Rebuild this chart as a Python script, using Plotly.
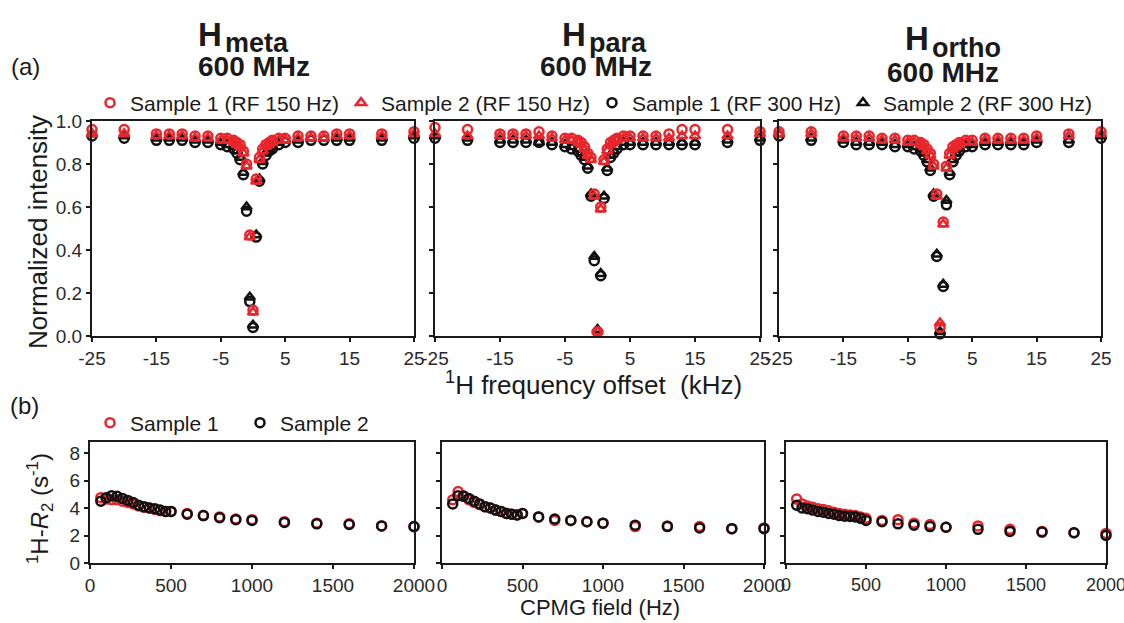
import plotly.graph_objects as go

W, H = 1124, 623
RED = "#e8262b"
BLACK = "#111111"
FONT = "Liberation Sans, Arial, sans-serif"

# ---------------- data: panel (a) ----------------
offsets_khz = [-25, -20, -15, -13, -11, -9, -7, -5, -4, -3, -2.5, -2, -1.5, -1, -0.5, 0,
               0.5, 1, 1.5, 2, 2.5, 3, 4, 5, 7, 9, 11, 13, 15, 20, 25]

meta_s1_rf150 = [0.96, 0.96, 0.94, 0.94, 0.94, 0.93, 0.93, 0.92, 0.92, 0.91, 0.90, 0.89, 0.86, 0.80, 0.47, 0.12,
                 0.73, 0.83, 0.87, 0.89, 0.90, 0.91, 0.92, 0.92, 0.93, 0.93, 0.93, 0.94, 0.94, 0.94, 0.95]
meta_s2_rf150 = [0.94, 0.94, 0.93, 0.93, 0.93, 0.92, 0.92, 0.91, 0.91, 0.90, 0.89, 0.88, 0.85, 0.79, 0.46, 0.11,
                 0.72, 0.82, 0.86, 0.88, 0.89, 0.90, 0.91, 0.91, 0.92, 0.92, 0.92, 0.93, 0.93, 0.93, 0.94]
meta_s1_rf300 = [0.93, 0.92, 0.91, 0.91, 0.91, 0.90, 0.90, 0.89, 0.88, 0.87, 0.85, 0.82, 0.75, 0.58, 0.16, 0.04,
                 0.46, 0.72, 0.80, 0.84, 0.86, 0.87, 0.89, 0.90, 0.90, 0.91, 0.91, 0.91, 0.91, 0.91, 0.92]
meta_s2_rf300 = [0.94, 0.93, 0.92, 0.92, 0.92, 0.91, 0.91, 0.90, 0.89, 0.88, 0.86, 0.83, 0.76, 0.60, 0.18, 0.05,
                 0.47, 0.73, 0.81, 0.85, 0.87, 0.88, 0.90, 0.91, 0.91, 0.92, 0.92, 0.92, 0.92, 0.92, 0.93]

para_s1_rf150 = [0.97, 0.96, 0.94, 0.94, 0.94, 0.95, 0.93, 0.92, 0.92, 0.91, 0.90, 0.88, 0.85, 0.83, 0.66, 0.02,
                 0.60, 0.82, 0.87, 0.90, 0.91, 0.92, 0.93, 0.93, 0.93, 0.93, 0.94, 0.96, 0.96, 0.96, 0.95]
para_s2_rf150 = [0.94, 0.93, 0.93, 0.93, 0.93, 0.93, 0.92, 0.91, 0.91, 0.90, 0.89, 0.87, 0.84, 0.82, 0.65, 0.02,
                 0.59, 0.81, 0.86, 0.89, 0.90, 0.91, 0.92, 0.92, 0.92, 0.92, 0.92, 0.93, 0.93, 0.93, 0.94]
para_s1_rf300 = [0.92, 0.91, 0.90, 0.90, 0.90, 0.90, 0.89, 0.88, 0.87, 0.86, 0.84, 0.82, 0.78, 0.65, 0.35, 0.02,
                 0.28, 0.64, 0.77, 0.83, 0.85, 0.87, 0.89, 0.89, 0.89, 0.89, 0.89, 0.89, 0.89, 0.90, 0.91]
para_s2_rf300 = [0.93, 0.92, 0.91, 0.91, 0.91, 0.90, 0.90, 0.89, 0.88, 0.87, 0.85, 0.83, 0.79, 0.66, 0.37, 0.03,
                 0.29, 0.65, 0.78, 0.84, 0.86, 0.88, 0.90, 0.90, 0.90, 0.90, 0.90, 0.90, 0.90, 0.91, 0.92]

ortho_s1_rf150 = [0.95, 0.95, 0.93, 0.93, 0.93, 0.92, 0.92, 0.91, 0.91, 0.90, 0.89, 0.87, 0.85, 0.80, 0.66, 0.04,
                  0.53, 0.79, 0.85, 0.88, 0.89, 0.90, 0.91, 0.91, 0.92, 0.92, 0.92, 0.92, 0.93, 0.94, 0.95]
ortho_s2_rf150 = [0.94, 0.94, 0.92, 0.92, 0.92, 0.91, 0.91, 0.90, 0.90, 0.89, 0.88, 0.86, 0.84, 0.79, 0.65, 0.06,
                  0.52, 0.78, 0.84, 0.87, 0.88, 0.89, 0.90, 0.90, 0.91, 0.91, 0.91, 0.91, 0.92, 0.93, 0.94]
ortho_s1_rf300 = [0.93, 0.91, 0.90, 0.89, 0.89, 0.89, 0.88, 0.88, 0.87, 0.86, 0.84, 0.81, 0.77, 0.65, 0.37, 0.01,
                  0.23, 0.61, 0.75, 0.81, 0.84, 0.86, 0.88, 0.88, 0.89, 0.89, 0.89, 0.89, 0.90, 0.90, 0.92]
ortho_s2_rf300 = [0.94, 0.92, 0.91, 0.90, 0.90, 0.90, 0.89, 0.89, 0.88, 0.87, 0.85, 0.82, 0.78, 0.66, 0.38, 0.02,
                  0.24, 0.63, 0.76, 0.82, 0.85, 0.87, 0.89, 0.89, 0.90, 0.90, 0.90, 0.90, 0.91, 0.91, 0.93]

# ---------------- data: panel (b) ----------------
cpmg_hz = [66.7, 100, 133.3, 166.7, 200, 233.3, 266.7, 300, 333.3, 366.7, 400, 433.3, 466.7, 500,
           600, 700, 800, 900, 1000, 1200, 1400, 1600, 1800, 2000]

meta_r2_s1 = [4.75, 4.65, 4.6, 4.6, 4.5, 4.4, 4.3, 4.15, 4.05, 4.0, 3.9, 3.8, 3.75, 3.75,
              3.6, 3.45, 3.35, 3.2, 3.15, 3.0, 2.9, 2.85, 2.7, 2.65]
meta_r2_s2 = [4.5, 4.75, 4.9, 4.85, 4.7, 4.55, 4.4, 4.2, 4.1, 4.0, 3.95, 3.85, 3.75, 3.75,
              3.55, 3.45, 3.3, 3.15, 3.1, 2.95, 2.85, 2.8, 2.7, 2.65]
para_r2_s1 = [4.6, 5.2, 4.9, 4.6, 4.4, 4.25, 4.1, 4.0, 3.85, 3.75, 3.6, 3.55, 3.5, 3.6,
              3.35, 3.1, 3.1, 3.0, 2.9, 2.65, 2.7, 2.65, 2.5, 2.55]
para_r2_s2 = [4.3, 4.9, 4.85, 4.7, 4.5, 4.3, 4.1, 4.0, 3.85, 3.75, 3.6, 3.55, 3.5, 3.6,
              3.35, 3.2, 3.1, 3.0, 2.9, 2.75, 2.65, 2.55, 2.5, 2.5]
ortho_r2_s1 = [4.65, 4.3, 4.15, 4.05, 3.95, 3.9, 3.8, 3.7, 3.6, 3.55, 3.5, 3.45, 3.35, 3.25,
               3.1, 3.15, 2.9, 2.8, 2.6, 2.7, 2.45, 2.3, 2.2, 2.15]
ortho_r2_s2 = [4.2, 4.0, 3.95, 3.85, 3.75, 3.7, 3.6, 3.55, 3.45, 3.4, 3.38, 3.35, 3.25, 3.1,
               3.0, 2.85, 2.75, 2.65, 2.6, 2.45, 2.3, 2.25, 2.2, 2.0]

# ---------------- tick labels ----------------
a_xticks = [-25, -15, -5, 5, 15, 25]
a_xticktext = ["-25", "-15", "-5", "5", "15", "25"]
a_yticks = [0.0, 0.2, 0.4, 0.6, 0.8, 1.0]
a_yticktext = ["0.0", "0.2", "0.4", "0.6", "0.8", "1.0"]
b_xticks = [0, 500, 1000, 1500, 2000]
b_yticks = [0, 2, 4, 6, 8]

panel_a = [
    (meta_s1_rf150, meta_s2_rf150, meta_s1_rf300, meta_s2_rf300),
    (para_s1_rf150, para_s2_rf150, para_s1_rf300, para_s2_rf300),
    (ortho_s1_rf150, ortho_s2_rf150, ortho_s1_rf300, ortho_s2_rf300),
]
panel_b = [(meta_r2_s1, meta_r2_s2), (para_r2_s1, para_r2_s2), (ortho_r2_s1, ortho_r2_s2)]

# target pixel boxes (left, right, top, bottom)
a_boxes = [(92, 414, 121, 336), (435, 760, 121, 336), (779, 1101, 121, 336)]
b_boxes = [(90, 414, 442, 563), (442, 764, 442, 563), (786, 1106, 442, 563)]


def px_x(x):
    return x / W


def px_y(y):
    return 1 - y / H


def xd(l, r):
    return [px_x(l), px_x(r)]


def yd(t, b):
    return [px_y(b), px_y(t)]


fig = go.Figure()

a_names = ["Sample 1 (RF 150 Hz)", "Sample 2 (RF 150 Hz)", "Sample 1 (RF 300 Hz)", "Sample 2 (RF 300 Hz)"]
a_syms = ["circle-open", "triangle-up-open", "circle-open", "triangle-up-open"]
a_cols = [RED, RED, BLACK, BLACK]
a_draw_order = [2, 3, 1, 0]

for p, series in enumerate(panel_a):
    xa = "x" if p == 0 else f"x{p + 1}"
    ya = "y" if p == 0 else f"y{p + 1}"
    for k in a_draw_order:
        fig.add_trace(go.Scatter(
            x=offsets_khz, y=series[k], mode="markers", name=a_names[k],
            marker=dict(symbol=a_syms[k], size=9, color=a_cols[k], line=dict(width=2.5, color=a_cols[k])),
            xaxis=xa, yaxis=ya, cliponaxis=False,
            showlegend=(p == 0), legend="legend", legendrank=k + 1,
        ))

b_names = ["Sample 1", "Sample 2"]
b_cols = [RED, BLACK]
for p, series in enumerate(panel_b):
    xa = f"x{p + 4}"
    ya = f"y{p + 4}"
    for k in range(2):
        fig.add_trace(go.Scatter(
            x=cpmg_hz, y=series[k], mode="markers", name=b_names[k],
            marker=dict(symbol="circle-open", size=9, color=b_cols[k], line=dict(width=2.5, color=b_cols[k])),
            xaxis=xa, yaxis=ya, cliponaxis=False,
            showlegend=(p == 0), legend="legend2", legendrank=k + 1,
        ))

axis_common = dict(showline=True, mirror=True, linecolor="#1a1a1a", linewidth=2.2,
                   ticks="outside", ticklen=4, tickwidth=2, tickcolor="#1a1a1a",
                   showgrid=False, zeroline=False, ticklabeloverflow="allow",
                   tickfont=dict(family=FONT, size=19, color="#2a2a2a"))

layout = dict(
    width=W, height=H, margin=dict(l=0, r=0, t=0, b=0, autoexpand=False),
    paper_bgcolor="white", plot_bgcolor="white",
    font=dict(family=FONT, color="#1a1a1a"),
)

for p, (l, r, t, b) in enumerate(a_boxes):
    suf = "" if p == 0 else str(p + 1)
    layout["xaxis" + suf] = dict(axis_common, domain=xd(l, r), range=[-25, 25], tickvals=a_xticks,
                                 ticktext=a_xticktext, anchor="y" + suf)
    layout["yaxis" + suf] = dict(axis_common, domain=yd(t, b), range=[0, 1], tickvals=a_yticks,
                                 ticktext=a_yticktext, showticklabels=(p == 0), anchor="x" + suf)

for p, (l, r, t, b) in enumerate(b_boxes):
    suf = str(p + 4)
    layout["xaxis" + suf] = dict(axis_common, domain=xd(l, r), range=[0, 2000], tickvals=b_xticks,
                                 anchor="y" + suf)
    layout["yaxis" + suf] = dict(axis_common, domain=yd(t, b), range=[0, 8.8], tickvals=b_yticks,
                                 showticklabels=(p == 0), anchor="x" + suf)
layout["xaxis6"]["tickfont"] = dict(family=FONT, size=18, color="#2a2a2a")

layout["legend"] = dict(orientation="h", x=px_x(90), y=px_y(103), xanchor="left", yanchor="middle",
                        font=dict(family=FONT, size=21, color="#1a1a1a"), bgcolor="rgba(0,0,0,0)",
                        entrywidth=206, entrywidthmode="pixels", itemwidth=30, tracegroupgap=0)
layout["legend2"] = dict(orientation="h", x=px_x(90), y=px_y(423), xanchor="left", yanchor="middle",
                         font=dict(family=FONT, size=21, color="#1a1a1a"), bgcolor="rgba(0,0,0,0)",
                         entrywidth=105, entrywidthmode="pixels", itemwidth=30)

ann = []


def add_text(x, y, text, size, bold=False, angle=0, xanchor="center"):
    ann.append(dict(x=px_x(x), y=px_y(y), xref="paper", yref="paper", text=(f"<b>{text}</b>" if bold else text),
                    showarrow=False, textangle=angle, xanchor=xanchor, yanchor="middle",
                    font=dict(family=FONT, size=size, color="#1a1a1a")))


# panel titles: big "H" with a bold lowered label next to it
for hx, hy, lab, mx, my in [(196, 34, "meta", 223, 43), (560, 34, "para", 587, 43), (903, 39, "ortho", 930, 48)]:
    add_text(hx, hy, "H", 33, bold=True, xanchor="left")
    add_text(mx, my, lab, 27, bold=True, xanchor="left")
add_text(254, 67, "600 MHz", 28, bold=True)
add_text(596, 67, "600 MHz", 28, bold=True)
add_text(943, 72, "600 MHz", 28, bold=True)
add_text(26, 67, "(a)", 24)
add_text(24, 405, "(b)", 24)
add_text(38, 232, "Normalized intensity", 26, angle=-90)
add_text(593, 383, "<sup>1</sup>H frequency offset  (kHz)", 26)
add_text(40, 509, "<sup>1</sup>H-<i>R</i><sub>2</sub> (s<sup>-1</sup>)", 24, angle=-90)
add_text(600, 607, "CPMG field (Hz)", 22)

layout["annotations"] = ann
fig.update_layout(**layout)
fig.write_html("out.html", config={"displayModeBar": False},
               post_script=("document.documentElement.style.overflow='hidden';"
                            "document.body.style.margin='0';document.body.style.overflow='hidden';"))
